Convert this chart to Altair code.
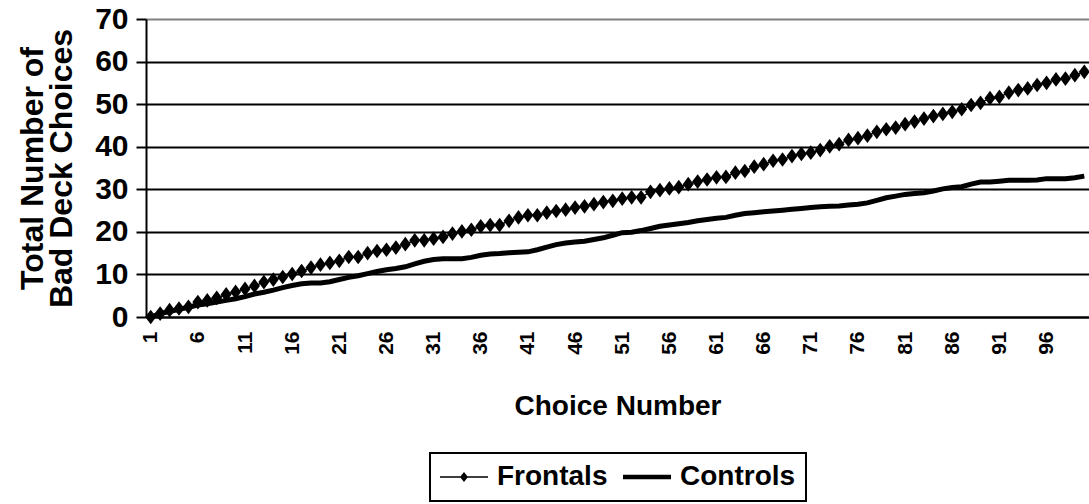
import altair as alt
import pandas as pd

choice = list(range(1, 101))

frontals = [
    0.0, 0.8, 1.6, 2.0, 2.4, 3.5, 3.9, 4.5, 5.3, 5.9,
    6.6, 7.3, 8.2, 8.8, 9.4, 10.1, 10.8, 11.6, 12.3, 12.7,
    13.2, 14.1, 14.1, 15.0, 15.5, 15.8, 16.3, 17.1, 18.0, 18.0,
    18.4, 18.8, 19.6, 20.1, 20.5, 21.3, 21.6, 21.6, 22.6, 23.4,
    23.9, 23.9, 24.5, 24.9, 25.2, 25.7, 26.0, 26.5, 27.0, 27.3,
    27.8, 28.1, 28.1, 29.4, 29.8, 30.2, 30.5, 31.2, 31.8, 32.3,
    32.8, 32.9, 33.9, 34.3, 35.3, 35.9, 36.7, 37.0, 37.8, 38.3,
    38.6, 39.2, 40.1, 40.6, 41.6, 42.0, 42.6, 43.5, 44.1, 44.5,
    45.3, 45.9, 46.6, 47.2, 47.7, 48.2, 48.8, 49.8, 50.3, 51.4,
    51.7, 52.7, 53.3, 53.7, 54.5, 55.0, 55.8, 56.0, 56.8, 57.6,
]

controls = [
    0.0, 0.8, 1.3, 1.8, 2.3, 2.8, 3.1, 3.5, 3.9, 4.3,
    4.8, 5.4, 5.8, 6.3, 6.9, 7.4, 7.8, 8.0, 8.0, 8.3,
    8.8, 9.3, 9.7, 10.2, 10.7, 11.1, 11.4, 11.8, 12.5, 13.1,
    13.5, 13.7, 13.7, 13.7, 14.0, 14.5, 14.8, 14.9, 15.1, 15.2,
    15.3, 15.8, 16.4, 17.0, 17.4, 17.6, 17.8, 18.2, 18.6, 19.2,
    19.8, 19.9, 20.3, 20.8, 21.3, 21.6, 21.9, 22.2, 22.6, 22.9,
    23.2, 23.4, 23.9, 24.3, 24.5, 24.7, 24.9, 25.1, 25.3, 25.5,
    25.7, 25.9, 26.0, 26.1, 26.3, 26.5, 26.8, 27.4, 28.0, 28.4,
    28.8, 29.0, 29.2, 29.6, 30.1, 30.4, 30.6, 31.2, 31.7, 31.7,
    31.9, 32.1, 32.1, 32.1, 32.2, 32.5, 32.5, 32.5, 32.7, 33.1,
]

x_tick_values = [1, 6, 11, 16, 21, 26, 31, 36, 41, 46, 51, 56, 61, 66, 71, 76, 81, 86, 91, 96]
y_tick_values = [0, 10, 20, 30, 40, 50, 60, 70]
series_names = ["Frontals", "Controls"]

df = pd.DataFrame({
    "Choice": choice + choice,
    "Value": frontals + controls,
    "Group": ["Frontals"] * len(choice) + ["Controls"] * len(choice),
})

FONT = "Liberation Sans"

x_enc = alt.X(
    "Choice:O",
    scale=alt.Scale(type="point", padding=0.5),
    axis=alt.Axis(
        values=x_tick_values,
        labelAngle=-90,
        labelFontSize=21,
        labelFontWeight="bold",
        labelFont=FONT,
        labelColor="black",
        labelPadding=14,
        ticks=False,
        domain=True,
        domainColor="black",
        domainWidth=2,
        grid=False,
        title="Choice Number",
        titleFontSize=28,
        titleFontWeight="bold",
        titleFont=FONT,
        titleColor="black",
        titlePadding=38,
    ),
)

y_enc = alt.Y(
    "Value:Q",
    scale=alt.Scale(domain=[0, 70], nice=False, zero=True),
    axis=alt.Axis(
        values=y_tick_values,
        labelFontSize=30,
        labelFontWeight="bold",
        labelFont=FONT,
        labelColor="black",
        labelPadding=8,
        tickSize=10,
        tickWidth=2,
        tickColor="black",
        domain=True,
        domainColor="black",
        domainWidth=2,
        grid=True,
        gridColor={"condition": {"test": "datum.value === 70", "value": "#808080"}, "value": "black"},
        gridWidth=2,
        gridOpacity=1,
        title=["Total Number of", "Bad Deck Choices"],
        titleFontSize=32,
        titleFontWeight="bold",
        titleFont=FONT,
        titleColor="black",
        titleLineHeight=29,
        titlePadding=16,
    ),
)

base = alt.Chart(df)

controls_line = base.transform_filter(alt.datum.Group == "Controls").mark_line(
    color="black", strokeWidth=5
).encode(x=x_enc, y=y_enc)

frontals_line = base.transform_filter(alt.datum.Group == "Frontals").mark_line(
    color="black", strokeWidth=1.5
).encode(x=x_enc, y=y_enc)

frontals_pts = base.transform_filter(alt.datum.Group == "Frontals").mark_point(
    shape="M0,-1.2L0.9,0L0,1.2L-0.9,0Z", filled=True, color="black", size=150, opacity=1
).encode(x=x_enc, y=y_enc)

legend_layer = base.transform_filter("false").mark_point(
    filled=True, color="black", opacity=1
).encode(
    x=x_enc,
    y=y_enc,
    shape=alt.Shape(
        "Group:N",
        scale=alt.Scale(
            domain=series_names,
            range=[
                "M-1,-0.054H2.43V0.054H-1Z M0.714,-0.357L1.0,0L0.714,0.357L0.428,0Z",
                "M-1,-0.16H2.43V0.16H-1Z",
            ],
        ),
        legend=alt.Legend(
            title=None,
            orient="none",
            legendX=284,
            legendY=434,
            direction="horizontal",
            labelFontSize=28,
            labelFontWeight="bold",
            labelFont=FONT,
            labelColor="black",
            labelOffset=29,
            columnPadding=15,
            padding=10,
            strokeColor="black",
            symbolFillColor="black",
            symbolStrokeWidth=0,
            symbolSize=784,
            symbolOpacity=1,
        ),
    ),
)

chart = alt.layer(controls_line, frontals_line, frontals_pts, legend_layer).properties(
    width=943,
    height=298,
    autosize=alt.AutoSizeParams(type="none"),
    padding={"left": 146, "top": 19, "right": 0, "bottom": 187},
    background="white",
).configure_view(stroke=None).configure_legend(strokeWidth=2)

chart.save("out.html", embed_options={"renderer": "svg", "actions": False})
